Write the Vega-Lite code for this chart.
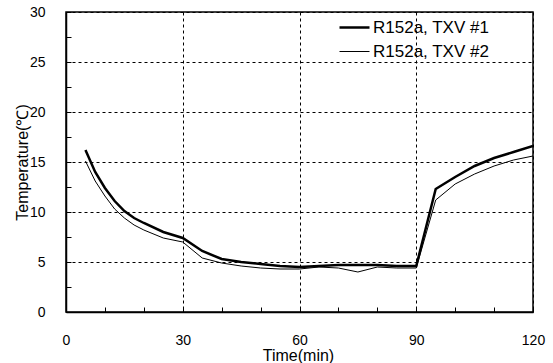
{
  "$schema": "https://vega.github.io/schema/vega-lite/v6.json",
  "width": 467,
  "height": 300,
  "autosize": "none",
  "padding": {"left": 66, "top": 12, "right": 20, "bottom": 51},
  "background": "white",
  "config": {
    "font": "Liberation Sans",
    "view": {"stroke": "black", "strokeWidth": 1.5},
    "axis": {
      "domainColor": "black",
      "domainWidth": 1.5,
      "tickColor": "black",
      "tickWidth": 1,
      "labelColor": "black",
      "titleColor": "black",
      "labelFontSize": 14,
      "titleFontSize": 16,
      "titleFontWeight": "normal",
      "gridColor": "black",
      "gridDash": [3, 3],
      "gridWidth": 1
    }
  },
  "data": {
    "values": [
      {"t": 5, "temp": 16.2, "series": "R152a, TXV #1"},
      {"t": 7.5, "temp": 14.0, "series": "R152a, TXV #1"},
      {"t": 10, "temp": 12.4, "series": "R152a, TXV #1"},
      {"t": 12.5, "temp": 11.1, "series": "R152a, TXV #1"},
      {"t": 15, "temp": 10.1, "series": "R152a, TXV #1"},
      {"t": 17.5, "temp": 9.4, "series": "R152a, TXV #1"},
      {"t": 20, "temp": 8.9, "series": "R152a, TXV #1"},
      {"t": 25, "temp": 8.0, "series": "R152a, TXV #1"},
      {"t": 30, "temp": 7.4, "series": "R152a, TXV #1"},
      {"t": 35, "temp": 6.1, "series": "R152a, TXV #1"},
      {"t": 40, "temp": 5.3, "series": "R152a, TXV #1"},
      {"t": 45, "temp": 5.0, "series": "R152a, TXV #1"},
      {"t": 50, "temp": 4.8, "series": "R152a, TXV #1"},
      {"t": 55, "temp": 4.6, "series": "R152a, TXV #1"},
      {"t": 60, "temp": 4.5, "series": "R152a, TXV #1"},
      {"t": 65, "temp": 4.6, "series": "R152a, TXV #1"},
      {"t": 70, "temp": 4.7, "series": "R152a, TXV #1"},
      {"t": 75, "temp": 4.7, "series": "R152a, TXV #1"},
      {"t": 80, "temp": 4.7, "series": "R152a, TXV #1"},
      {"t": 85, "temp": 4.6, "series": "R152a, TXV #1"},
      {"t": 90, "temp": 4.6, "series": "R152a, TXV #1"},
      {"t": 95, "temp": 12.3, "series": "R152a, TXV #1"},
      {"t": 100, "temp": 13.5, "series": "R152a, TXV #1"},
      {"t": 105, "temp": 14.6, "series": "R152a, TXV #1"},
      {"t": 110, "temp": 15.4, "series": "R152a, TXV #1"},
      {"t": 115, "temp": 16.0, "series": "R152a, TXV #1"},
      {"t": 120, "temp": 16.6, "series": "R152a, TXV #1"},
      {"t": 5, "temp": 15.1, "series": "R152a, TXV #2"},
      {"t": 7.5, "temp": 13.1, "series": "R152a, TXV #2"},
      {"t": 10, "temp": 11.6, "series": "R152a, TXV #2"},
      {"t": 12.5, "temp": 10.3, "series": "R152a, TXV #2"},
      {"t": 15, "temp": 9.4, "series": "R152a, TXV #2"},
      {"t": 17.5, "temp": 8.7, "series": "R152a, TXV #2"},
      {"t": 20, "temp": 8.2, "series": "R152a, TXV #2"},
      {"t": 25, "temp": 7.4, "series": "R152a, TXV #2"},
      {"t": 30, "temp": 7.0, "series": "R152a, TXV #2"},
      {"t": 35, "temp": 5.4, "series": "R152a, TXV #2"},
      {"t": 40, "temp": 4.9, "series": "R152a, TXV #2"},
      {"t": 45, "temp": 4.6, "series": "R152a, TXV #2"},
      {"t": 50, "temp": 4.4, "series": "R152a, TXV #2"},
      {"t": 55, "temp": 4.3, "series": "R152a, TXV #2"},
      {"t": 60, "temp": 4.3, "series": "R152a, TXV #2"},
      {"t": 65, "temp": 4.5, "series": "R152a, TXV #2"},
      {"t": 70, "temp": 4.4, "series": "R152a, TXV #2"},
      {"t": 75, "temp": 4.0, "series": "R152a, TXV #2"},
      {"t": 80, "temp": 4.5, "series": "R152a, TXV #2"},
      {"t": 85, "temp": 4.4, "series": "R152a, TXV #2"},
      {"t": 90, "temp": 4.4, "series": "R152a, TXV #2"},
      {"t": 95, "temp": 11.2, "series": "R152a, TXV #2"},
      {"t": 100, "temp": 12.8, "series": "R152a, TXV #2"},
      {"t": 105, "temp": 13.8, "series": "R152a, TXV #2"},
      {"t": 110, "temp": 14.6, "series": "R152a, TXV #2"},
      {"t": 115, "temp": 15.2, "series": "R152a, TXV #2"},
      {"t": 120, "temp": 15.6, "series": "R152a, TXV #2"}
    ]
  },
  "mark": {"type": "line", "color": "black", "clip": true},
  "encoding": {
    "x": {
      "field": "t",
      "type": "quantitative",
      "scale": {"domain": [0, 120], "nice": false},
      "axis": {
        "title": "Time(min)",
        "values": [0, 10, 20, 30, 40, 50, 60, 70, 80, 90, 100, 110, 120],
        "labelExpr": "datum.value % 30 === 0 ? datum.label : ''",
        "tickSize": -5,
        "labelPadding": 26,
        "labelFlush": false,
        "gridOpacity": {"condition": {"test": "datum.value % 30 === 0", "value": 1}, "value": 0},
        "titleX": 232,
        "titleY": 43,
        "titleBaseline": "middle"
      }
    },
    "y": {
      "field": "temp",
      "type": "quantitative",
      "scale": {"domain": [0, 30], "nice": false},
      "axis": {
        "title": "Temperature(℃)",
        "values": [0, 2.5, 5, 7.5, 10, 12.5, 15, 17.5, 20, 22.5, 25, 27.5, 30],
        "labelExpr": "datum.value % 5 === 0 ? datum.label : ''",
        "tickSize": -5,
        "labelPadding": 26,
        "labelFlush": false,
        "gridOpacity": {"condition": {"test": "datum.value % 5 === 0", "value": 1}, "value": 0},
        "titleX": -44,
        "titleY": 150,
        "titleAngle": -90,
        "titleBaseline": "middle",
        "titleAlign": "center"
      }
    },
    "strokeWidth": {
      "field": "series",
      "type": "nominal",
      "scale": {"type": "ordinal", "domain": ["R152a, TXV #1", "R152a, TXV #2"], "range": [2.5, 1]},
      "legend": {
        "title": null,
        "orient": "none",
        "legendX": 272,
        "legendY": -1,
        "padding": 0,
        "symbolType": "stroke",
        "symbolSize": 900,
        "symbolStrokeColor": "black",
        "rowPadding": -12,
        "labelOffset": 2,
        "labelFontSize": 17,
        "labelColor": "black",
        "labelLimit": 300
      }
    }
  }
}
